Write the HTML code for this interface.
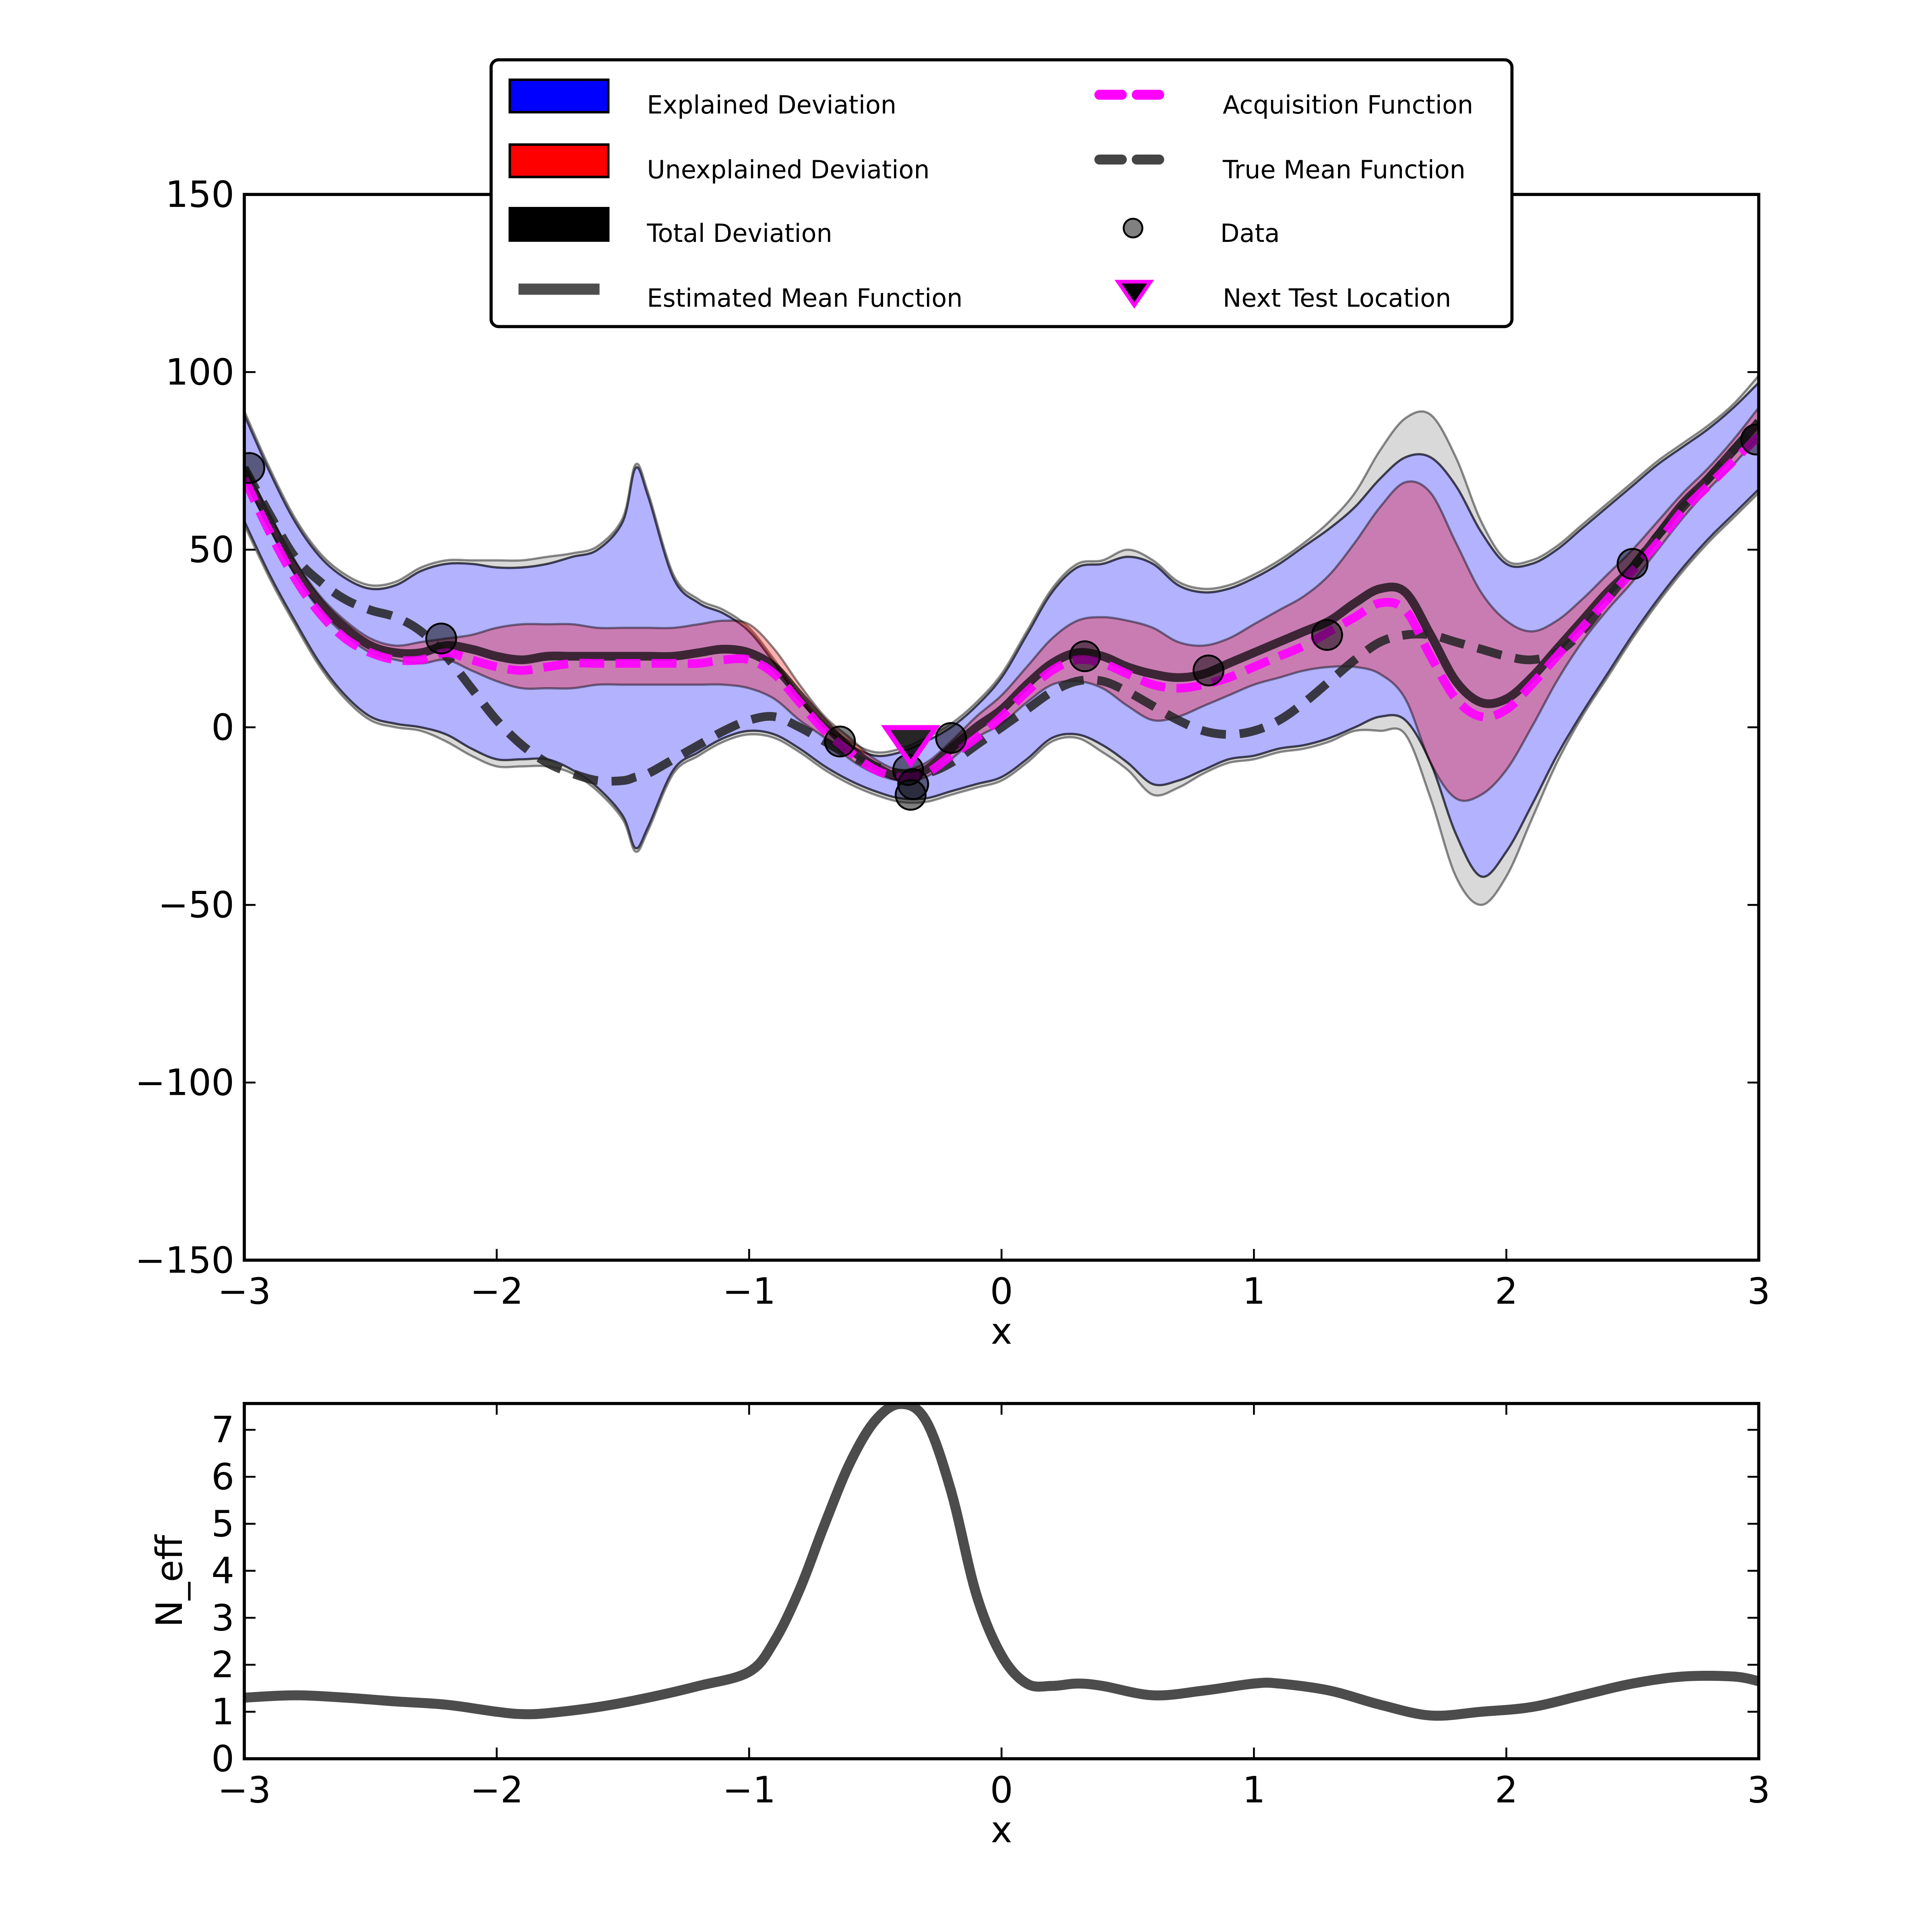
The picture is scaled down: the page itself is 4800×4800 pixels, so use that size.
<!DOCTYPE html>
<html><head><meta charset="utf-8"><style>
html,body{margin:0;padding:0;background:#fff}
svg{display:block}
text{font-family:"DejaVu Sans","Liberation Sans",sans-serif;fill:#000}
</style></head><body>
<svg id="chart" width="4800" height="4800" viewBox="0 0 1550 1550" xmlns="http://www.w3.org/2000/svg">
<rect width="1550" height="1550" fill="#fff"/>
<g id="main"></g>
<g id="sub"></g>
<g id="legend">
<rect x="394" y="48" width="819" height="214" rx="6" fill="#fff" stroke="#000" stroke-width="2.5"/>
<rect x="409" y="64" width="79" height="26" fill="#0000ff" stroke="#000" stroke-width="2"/>
<text x="519" y="91" font-size="20">Explained Deviation</text>
<rect x="409" y="116" width="79" height="26" fill="#ff0000" stroke="#000" stroke-width="2"/>
<text x="519" y="143" font-size="20">Unexplained Deviation</text>
<rect x="409" y="167" width="79" height="26" fill="#000" stroke="#000" stroke-width="2"/>
<text x="519" y="194" font-size="20">Total Deviation</text>
<line x1="416" y1="232" x2="481" y2="232" stroke="#4d4d4d" stroke-width="9"/>
<text x="519" y="246" font-size="20">Estimated Mean Function</text>
<line x1="882" y1="76" x2="936" y2="76" stroke="#ff00ff" stroke-width="8" stroke-dasharray="18,12" stroke-linecap="round"/>
<text x="981" y="91" font-size="20">Acquisition Function</text>
<line x1="882" y1="128" x2="936" y2="128" stroke="#444" stroke-width="8" stroke-dasharray="18,12" stroke-linecap="round"/>
<text x="981" y="143" font-size="20">True Mean Function</text>
<circle cx="909" cy="183" r="7.5" fill="#808080" stroke="#000" stroke-width="1.5"/>
<text x="979" y="194" font-size="20">Data</text>
<polygon points="897,226 923,226 910,245" fill="#000" stroke="#ff00ff" stroke-width="3"/>
<text x="981" y="246" font-size="20">Next Test Location</text>
</g>
</svg>
<script>
const xs = [-3.0,-2.9,-2.8,-2.7,-2.6,-2.5,-2.4,-2.3,-2.2,-2.1,-2.0,-1.9,-1.8,-1.7,-1.6,-1.5,-1.45,-1.4,-1.3,-1.2,-1.1,-1.0,-0.9,-0.8,-0.7,-0.6,-0.5,-0.4,-0.3,-0.2,-0.1,0.0,0.1,0.2,0.3,0.4,0.5,0.6,0.7,0.8,0.9,1.0,1.1,1.2,1.3,1.4,1.5,1.6,1.7,1.8,1.9,2.0,2.1,2.2,2.3,2.4,2.5,2.6,2.7,2.8,2.9,3.0];
const meanVals = [72,58,45,35,28,23,21,21,23,22,20,19,20,20,20,20,20,20,20,21,22,21,17,9,1,-6,-11,-14,-12,-6,0,5,12,18,21,20,17,15,14,15,18,21,24,27,30,35,39,38,26,13,7,8,14,22,30,38,45,54,63,70,78,86];
const acqVals = [70,55,42,32,25,21,19,19,21,19,17,16,17,18,18,18,18,18,18,18,19,19,15,7,-1,-7,-12,-14,-13,-8,-3,3,10,16,19,18,15,12,11,12,14,17,20,23,27,31,35,33,20,8,3,5,12,20,28,36,44,52,61,68,75,82];
const trueVals = [73,60,48,41,36,33,31,27,20,11,2,-5,-10,-13,-15,-15,-14,-13,-9,-5,-1,2,3,0,-4,-8,-11,-13,-13,-10,-5,0,5,10,13,13,10,6,2,-1,-2,-1,2,7,13,19,24,26,26,24,22,20,19,21,27,36,45,54,62,70,78,86];
const blueUpper = [88,72,58,48,42,39,40,44,46,46,45,45,46,48,50,58,73,65,42,35,32,27,18,8,0,-5,-8,-7,-4,0,6,14,26,38,45,46,48,46,40,38,39,42,46,51,56,62,70,76,76,68,55,46,46,50,56,62,68,74,79,84,90,97];
const blueLower = [58,43,30,18,9,3,1,0,-2,-6,-9,-9,-9,-12,-17,-25,-34,-28,-12,-7,-3,-1,-2,-6,-11,-15,-18,-20,-20,-18,-16,-14,-9,-3,-2,-5,-10,-16,-15,-12,-9,-8,-6,-5,-3,0,3,2,-10,-30,-42,-35,-22,-8,4,15,26,36,45,53,60,67];
const redUpper = [74,60,47,37,30,25,23,24,25,26,28,29,29,29,28,28,28,28,28,29,30,29,22,12,3,-3,-9,-12,-10,-4,3,9,17,25,30,31,30,28,24,23,25,29,33,37,43,52,62,69,66,52,38,30,27,30,36,43,50,58,66,73,81,90];
const redLower = [70,56,43,33,26,21,19,18,19,16,13,11,11,11,12,12,12,12,12,12,12,11,8,2,-3,-9,-13,-15,-14,-9,-3,1,7,12,13,11,6,2,3,6,9,12,14,16,17,17,15,8,-10,-20,-19,-12,0,13,24,33,41,50,59,67,74,82];
const grayUpper = [89,73,59,49,43,40,41,45,47,47,47,47,48,49,51,59,74,66,43,36,33,28,19,9,1,-4,-7,-6,-3,1,7,15,27,39,46,47,50,47,41,39,40,43,47,52,58,66,78,87,88,76,58,47,47,51,57,63,69,75,80,85,91,99];
const grayLower = [57,42,29,17,8,2,0,-1,-4,-8,-11,-11,-11,-13,-18,-26,-35,-29,-13,-8,-4,-2,-3,-7,-12,-16,-19,-21,-21,-19,-17,-15,-10,-4,-3,-7,-12,-19,-17,-13,-10,-9,-7,-6,-4,-1,-1,-2,-20,-42,-50,-42,-26,-10,3,14,25,35,44,52,59,66];
const dataX = [-2.98,-2.22,-0.64,-0.36,-0.35,-0.37,-0.2,0.33,0.82,1.29,2.5,2.99];
const dataY = [73,25,-4,-19,-16,-12,-3,20,16,26,46,81];
const nextX = [-0.36];
const nextY = [-5];
const neffX = [-3,-2.8,-2.6,-2.4,-2.2,-2.0,-1.9,-1.8,-1.6,-1.4,-1.2,-1.0,-0.9,-0.8,-0.7,-0.6,-0.5,-0.4,-0.3,-0.2,-0.1,0,0.1,0.2,0.3,0.4,0.6,0.8,1.0,1.1,1.3,1.5,1.7,1.9,2.1,2.3,2.5,2.7,2.9,3.0];
const neffY = [1.3,1.35,1.3,1.22,1.15,1.0,0.95,0.97,1.1,1.3,1.55,1.85,2.5,3.6,5.0,6.3,7.2,7.55,7.2,5.7,3.5,2.2,1.6,1.55,1.6,1.55,1.35,1.45,1.6,1.6,1.45,1.15,0.92,1.0,1.1,1.35,1.6,1.75,1.75,1.65];
const xTicks = [-3,-2,-1,0,1,2,3];
const xTickLabels = ["\u22123","\u22122","\u22121","0","1","2","3"];
const yTicks = [-150,-100,-50,0,50,100,150];
const yTickLabels = ["\u2212150","\u2212100","\u221250","0","50","100","150"];
const y2Ticks = [0,1,2,3,4,5,6,7];
const y2TickLabels = ["0","1","2","3","4","5","6","7"];

const NS="http://www.w3.org/2000/svg";
const L=196,R=1411,T1=156,B1=1011,T2=1126,B2=1411;
const sx=v=>L+(v+3)/6*(R-L);
const sy=v=>T1+(150-v)/300*(B1-T1);
const sy2=v=>B2-v/7.56*(B2-T2);
function mk(tag,attrs,parent){const e=document.createElementNS(NS,tag);for(const k in attrs)e.setAttribute(k,attrs[k]);parent.appendChild(e);return e;}
function dense(p){const out=[p[0]];
 for(let i=0;i<p.length-1;i++){const p0=p[Math.max(0,i-1)],p1=p[i],p2=p[i+1],p3=p[Math.min(p.length-1,i+2)];
  for(let s=1;s<=10;s++){const t=s/10,t2=t*t,t3=t2*t;
   const f=(a,b,c,d)=>0.5*((2*b)+(-a+c)*t+(2*a-5*b+4*c-d)*t2+(-a+3*b-3*c+d)*t3);
   out.push([f(p0[0],p1[0],p2[0],p3[0]),f(p0[1],p1[1],p2[1],p3[1])]);}}
 return out;}
function ptsStr(arr){return arr.map(p=>p[0].toFixed(2)+","+p[1].toFixed(2)).join(" ");}
function pts(X,Y,fy){return X.map((x,i)=>[sx(x),fy(Y[i])]);}
function band(up,lo,fill,op,parent){
 const a=dense(pts(xs,up,sy)),b=dense(pts(xs,lo,sy)).reverse();
 return mk("polygon",{points:ptsStr(a.concat(b)),fill:fill,"fill-opacity":op,stroke:"#000","stroke-opacity":0.45,"stroke-width":1.8,"stroke-linejoin":"round"},parent);}
function line(X,Y,fy,attrs,parent){const a=Object.assign({points:ptsStr(dense(pts(X,Y,fy))),fill:"none","stroke-linejoin":"round"},attrs);return mk("polyline",a,parent);}
const main=document.getElementById("main");
const cp=mk("clipPath",{id:"c1"},main);mk("rect",{x:L,y:T1,width:R-L,height:B1-T1},cp);
const g=mk("g",{"clip-path":"url(#c1)"},main);


let e=band(grayUpper,blueUpper,"#000",0.15,g);


e=band(blueLower,grayLower,"#000",0.15,g);


e=band(blueUpper,blueLower,"#0000ff",0.3,g);


e=band(redUpper,redLower,"#ff0000",0.3,g);


e=line(xs,meanVals,sy,{stroke:"#000","stroke-opacity":0.7,"stroke-width":7},g);


e=line(xs,trueVals,sy,{stroke:"#222","stroke-opacity":0.85,"stroke-width":7,"stroke-dasharray":"20,11"},g);


e=line(xs,acqVals,sy,{stroke:"#ff00ff","stroke-opacity":0.9,"stroke-width":7,"stroke-dasharray":"20,9"},g);


dataX.forEach((x,i)=>{const c=mk("circle",{cx:sx(x),cy:sy(dataY[i]),r:12,fill:"#000","fill-opacity":0.5,stroke:"#000","stroke-width":1.5},g);

});
nextX.forEach((x,i)=>{const px=sx(x),py=sy(nextY[i]);
const t=mk("polygon",{points:(px-20)+","+(py-14)+" "+(px+20)+","+(py-14)+" "+px+","+(py+15),fill:"#000","fill-opacity":0.85,stroke:"#ff00ff","stroke-width":4},g);

});
function axes(parent,T,B,fy,yt,ytl,name){
 const f=mk("rect",{x:L,y:T,width:R-L,height:B-T,fill:"none",stroke:"#000","stroke-width":2.5},parent);
 
 
 xTicks.forEach((v,i)=>{const x=sx(v);
  mk("line",{x1:x,y1:B,x2:x,y2:B-9,stroke:"#000","stroke-width":1.5},parent);
  mk("line",{x1:x,y1:T,x2:x,y2:T+9,stroke:"#000","stroke-width":1.5},parent);
  const t=mk("text",{x:x,y:B+35,"font-size":29,"text-anchor":"middle"},parent);t.textContent=xTickLabels[i];
  
  });
 yt.forEach((v,i)=>{const y=fy(v);
  mk("line",{x1:L,y1:y,x2:L+9,y2:y,stroke:"#000","stroke-width":1.5},parent);
  mk("line",{x1:R,y1:y,x2:R-9,y2:y,stroke:"#000","stroke-width":1.5},parent);
  const t=mk("text",{x:L-8,y:y+10,"font-size":29,"text-anchor":"end"},parent);t.textContent=ytl[i];
  
  });
 const xl=mk("text",{x:(L+R)/2,y:B+67,"font-size":29,"text-anchor":"middle"},parent);xl.textContent="x";
 
 
}
axes(main,T1,B1,sy,yTicks,yTickLabels,"main");
const sub=document.getElementById("sub");
const cp2=mk("clipPath",{id:"c2"},sub);mk("rect",{x:L,y:T2,width:R-L,height:B2-T2},cp2);
const g2=mk("g",{"clip-path":"url(#c2)"},sub);
e=line(neffX,neffY,sy2,{stroke:"#000","stroke-opacity":0.7,"stroke-width":8},g2);


axes(sub,T2,B2,sy2,y2Ticks,y2TickLabels,"neff");
const yl=mk("text",{x:146,y:(T2+B2)/2,"font-size":29,"text-anchor":"middle",transform:"rotate(-90 146 "+((T2+B2)/2)+")"},sub);yl.textContent="N_eff";


</script>
</body></html>
